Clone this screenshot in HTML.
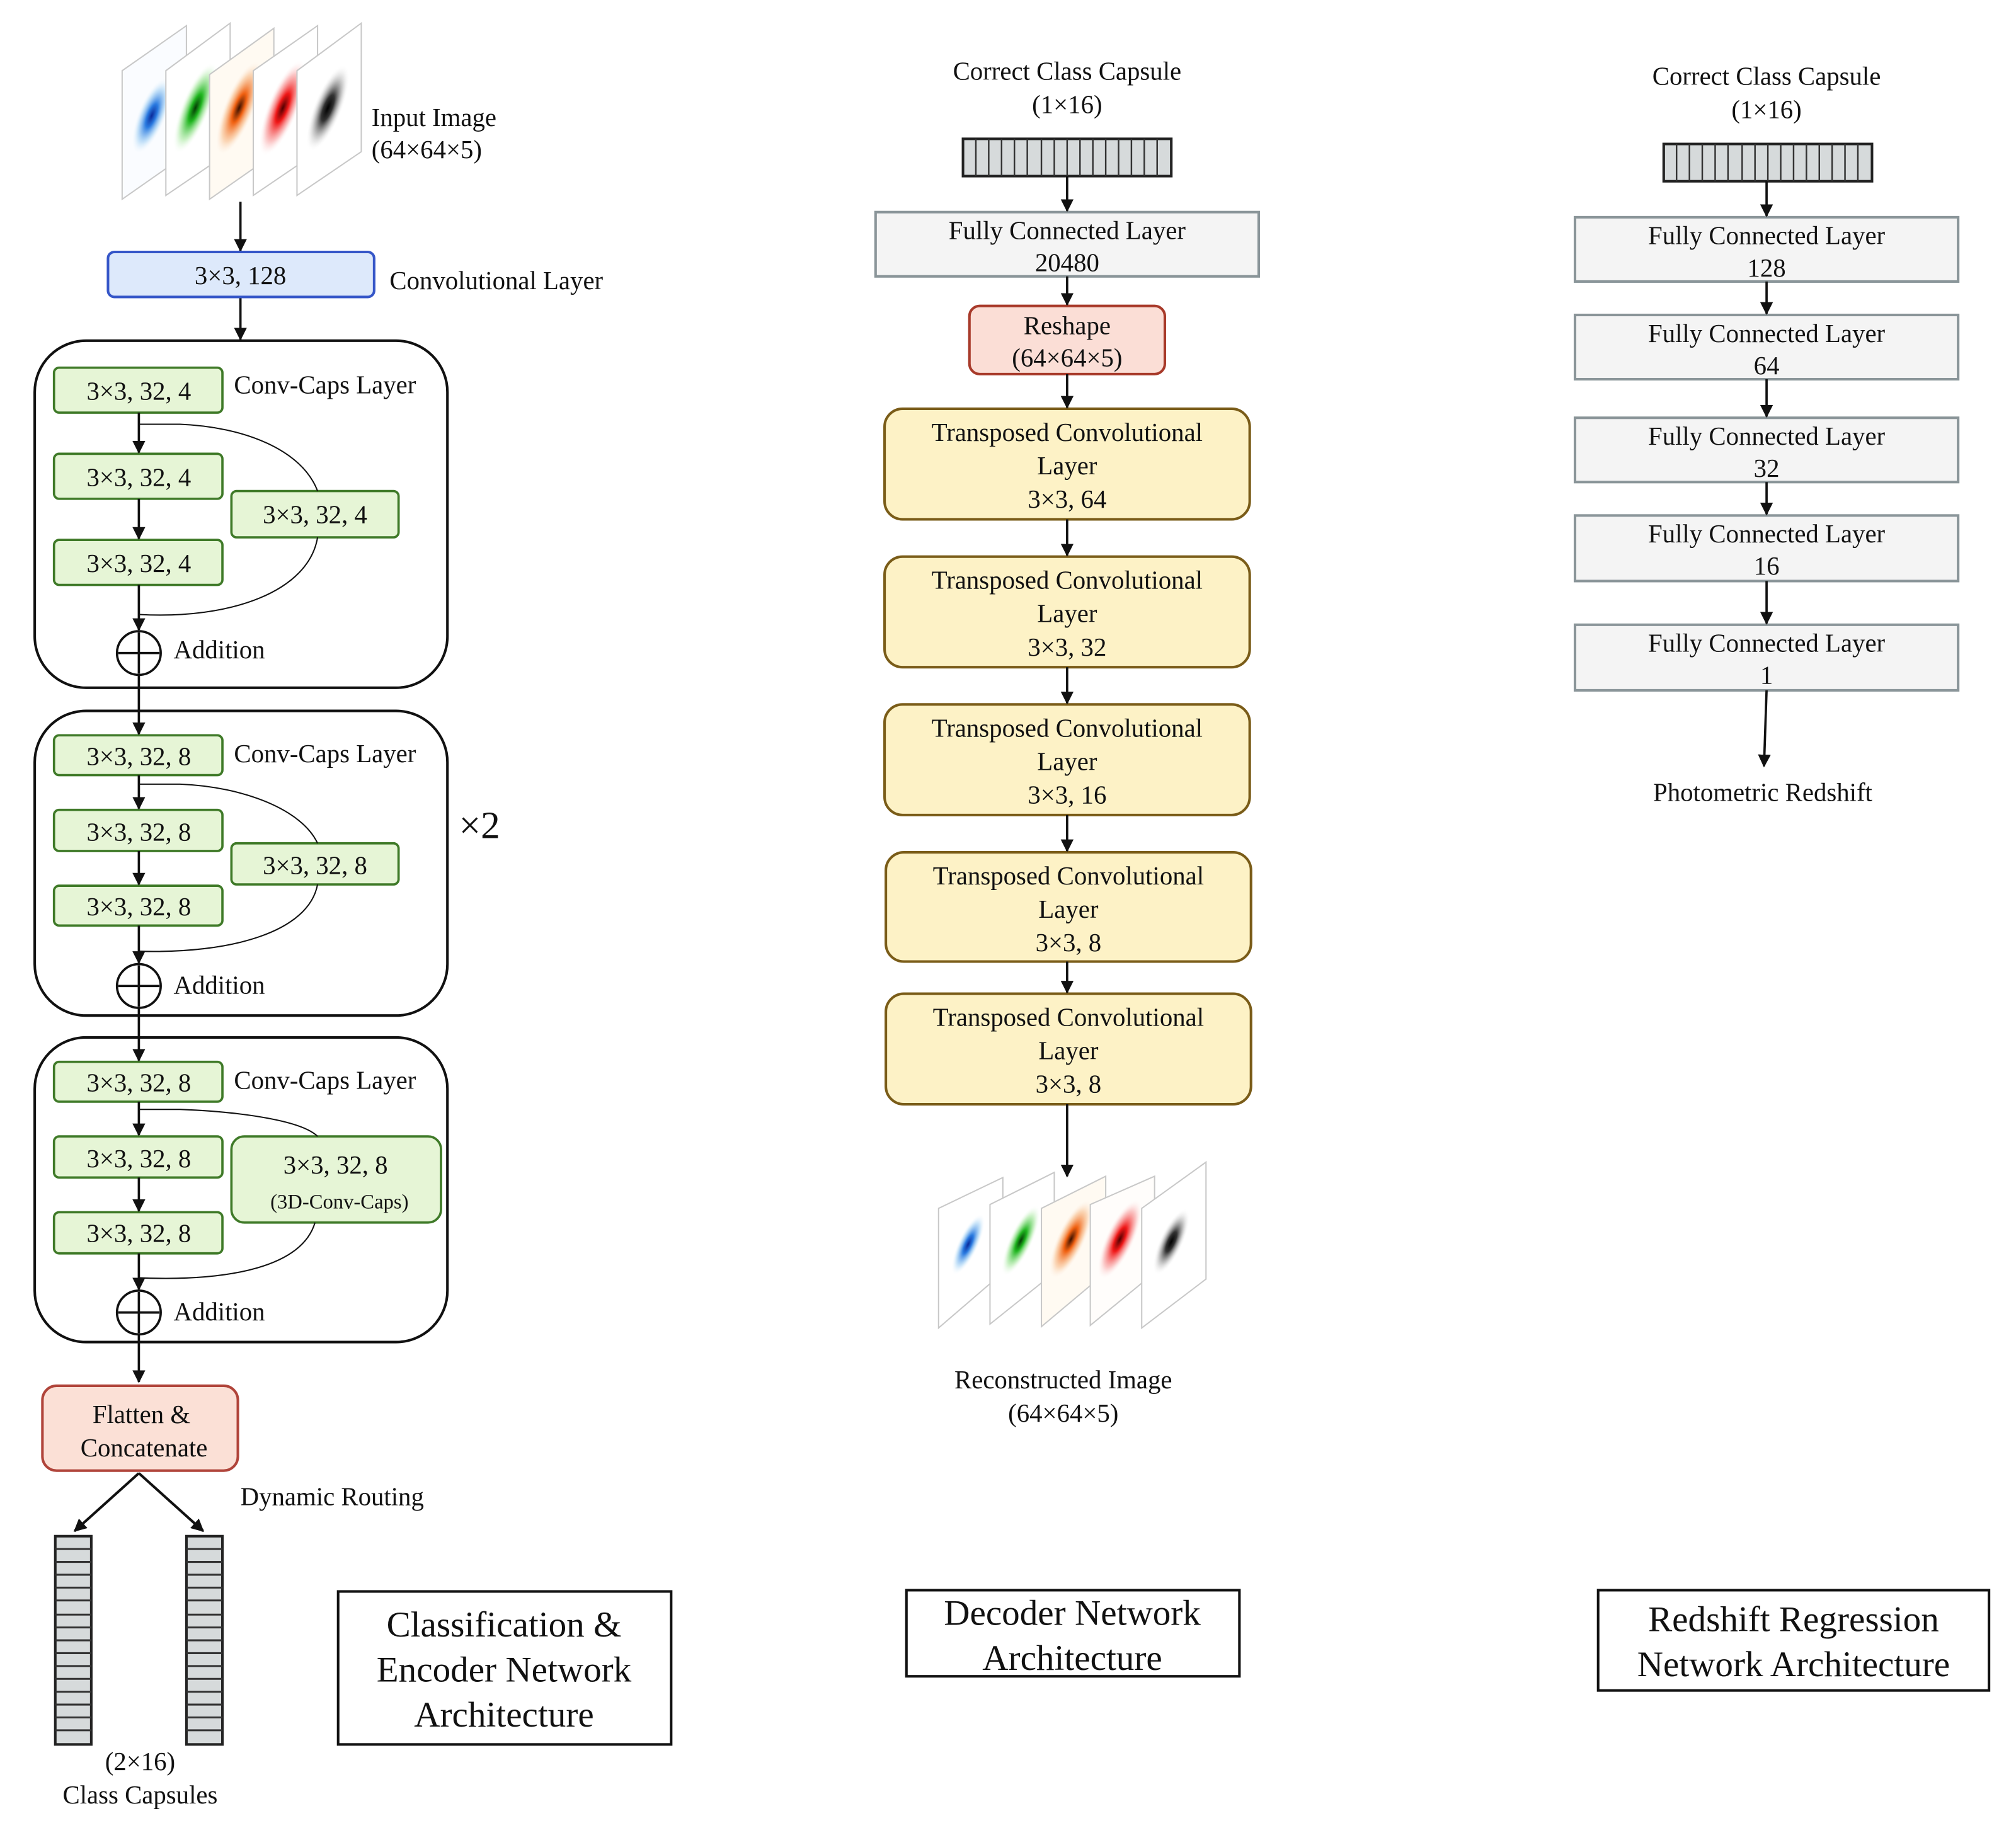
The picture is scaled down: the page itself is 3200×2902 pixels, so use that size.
<!DOCTYPE html>
<html><head><meta charset="utf-8">
<style>
html,body{margin:0;padding:0;background:#fff;}
svg{display:block;}
text{font-family:"Liberation Serif",serif;fill:#111;}
</style></head>
<body>
<svg width="3200" height="2902" viewBox="0 0 1568 1422" preserveAspectRatio="none" xmlns="http://www.w3.org/2000/svg">
<defs>
<marker id="ah" markerWidth="10" markerHeight="10" refX="9" refY="5" orient="auto" markerUnits="userSpaceOnUse">
<path d="M0,0 L10,5 L0,10 z" fill="#111"/>
</marker>
<radialGradient id="gb"><stop offset="0" stop-color="#0a2a9a"/><stop offset="0.3" stop-color="#2a7ae0"/><stop offset="0.7" stop-color="#a8d4f5" stop-opacity="0.6"/><stop offset="1" stop-color="#fff" stop-opacity="0"/></radialGradient>
<radialGradient id="gg"><stop offset="0" stop-color="#053a05"/><stop offset="0.3" stop-color="#1fb51f"/><stop offset="0.7" stop-color="#a8e8a0" stop-opacity="0.6"/><stop offset="1" stop-color="#fff" stop-opacity="0"/></radialGradient>
<radialGradient id="go"><stop offset="0" stop-color="#3a1000"/><stop offset="0.3" stop-color="#f06010"/><stop offset="0.7" stop-color="#f8c090" stop-opacity="0.6"/><stop offset="1" stop-color="#fff" stop-opacity="0"/></radialGradient>
<radialGradient id="gr"><stop offset="0" stop-color="#500000"/><stop offset="0.3" stop-color="#f01818"/><stop offset="0.7" stop-color="#f8a0a0" stop-opacity="0.6"/><stop offset="1" stop-color="#fff" stop-opacity="0"/></radialGradient>
<radialGradient id="gk"><stop offset="0" stop-color="#000"/><stop offset="0.3" stop-color="#333"/><stop offset="0.7" stop-color="#bbb" stop-opacity="0.6"/><stop offset="1" stop-color="#fff" stop-opacity="0"/></radialGradient>
</defs>
<rect width="1568" height="1422" fill="#fff"/>

<g stroke="#c8c8c8" stroke-width="1">
<polygon points="95,55 145,20 145,120 95,155" fill="#fafcff"/>
<ellipse cx="118" cy="90" rx="11" ry="32" transform="rotate(22 118 90)" fill="url(#gb)" stroke="none"/>
<polygon points="129,55 179,18 179,118 129,152" fill="#fff"/>
<ellipse cx="152" cy="84" rx="11" ry="38" transform="rotate(22 152 84)" fill="url(#gg)" stroke="none"/>
<polygon points="163,58 213,22 213,120 163,155" fill="#fffaf2"/>
<ellipse cx="186" cy="84" rx="12" ry="40" transform="rotate(22 186 84)" fill="url(#go)" stroke="none"/>
<polygon points="197,55 247,20 247,118 197,152" fill="#fff"/>
<ellipse cx="220" cy="84" rx="12" ry="40" transform="rotate(22 220 84)" fill="url(#gr)" stroke="none"/>
<polygon points="231,55 281,18 281,118 231,152" fill="#fff"/>
<ellipse cx="255" cy="84" rx="11" ry="36" transform="rotate(22 255 84)" fill="url(#gk)" stroke="none"/>
</g>
<text x="289" y="98" font-size="20">Input Image</text>
<text x="289" y="123" font-size="20">(64×64×5)</text>

<g stroke="#111" stroke-width="1.8" fill="none" marker-end="url(#ah)">
<line x1="187" y1="157" x2="187" y2="195"/>
<line x1="187" y1="232" x2="187" y2="264"/>
</g>
<rect x="84" y="196" width="207" height="35" rx="5" fill="#dde9fb" stroke="#3556c8" stroke-width="2"/>
<text x="187" y="221" font-size="20" text-anchor="middle">3×3, 128</text>
<text x="303" y="225" font-size="20">Convolutional Layer</text>

<rect x="27" y="265" width="321" height="270" rx="40" fill="none" stroke="#111" stroke-width="2"/>
<g fill="#e6f5d6" stroke="#3f7a28" stroke-width="1.8">
<rect x="42" y="286" width="131" height="35" rx="4"/>
<rect x="42" y="353" width="131" height="35" rx="4"/>
<rect x="42" y="420" width="131" height="35" rx="4"/>
<rect x="180" y="382" width="130" height="36" rx="4"/>
</g>
<g font-size="20" text-anchor="middle">
<text x="108" y="311">3×3, 32, 4</text>
<text x="108" y="378">3×3, 32, 4</text>
<text x="108" y="445">3×3, 32, 4</text>
<text x="245" y="407">3×3, 32, 4</text>
</g>
<text x="182" y="306" font-size="20">Conv-Caps Layer</text>
<path d="M108,330 L140,330 C190,332 235,350 247,382" fill="none" stroke="#111" stroke-width="1"/>
<path d="M247,418 C240,460 180,482 108,478" fill="none" stroke="#111" stroke-width="1"/>
<g stroke="#111" stroke-width="1.8" fill="none" marker-end="url(#ah)">
<line x1="108" y1="321" x2="108" y2="352"/>
<line x1="108" y1="388" x2="108" y2="419"/>
<line x1="108" y1="455" x2="108" y2="490"/>
</g>
<circle cx="108" cy="508" r="17" fill="#fff" stroke="#111" stroke-width="1.8"/>
<path d="M92,508 H124 M108,492 V524" stroke="#111" stroke-width="1.8"/>
<text x="135" y="512" font-size="20">Addition</text>

<rect x="27" y="553" width="321" height="237" rx="40" fill="none" stroke="#111" stroke-width="2"/>
<g fill="#e6f5d6" stroke="#3f7a28" stroke-width="1.8">
<rect x="42" y="572" width="131" height="31" rx="4"/>
<rect x="42" y="630" width="131" height="32" rx="4"/>
<rect x="42" y="689" width="131" height="31" rx="4"/>
<rect x="180" y="656" width="130" height="32" rx="4"/>
</g>
<g font-size="20" text-anchor="middle">
<text x="108" y="595">3×3, 32, 8</text>
<text x="108" y="654">3×3, 32, 8</text>
<text x="108" y="712">3×3, 32, 8</text>
<text x="245" y="680">3×3, 32, 8</text>
</g>
<text x="182" y="593" font-size="20">Conv-Caps Layer</text>
<path d="M108,610 L140,610 C190,612 235,630 247,656" fill="none" stroke="#111" stroke-width="1"/>
<path d="M247,688 C240,725 180,742 108,740" fill="none" stroke="#111" stroke-width="1"/>
<g stroke="#111" stroke-width="1.8" fill="none" marker-end="url(#ah)">
<line x1="108" y1="525" x2="108" y2="571"/>
<line x1="108" y1="603" x2="108" y2="629"/>
<line x1="108" y1="662" x2="108" y2="688"/>
<line x1="108" y1="720" x2="108" y2="749"/>
</g>
<circle cx="108" cy="767" r="17" fill="#fff" stroke="#111" stroke-width="1.8"/>
<path d="M92,767 H124 M108,751 V783" stroke="#111" stroke-width="1.8"/>
<text x="135" y="773" font-size="20">Addition</text>
<text x="357" y="652" font-size="30">×2</text>

<rect x="27" y="807" width="321" height="237" rx="40" fill="none" stroke="#111" stroke-width="2"/>
<g fill="#e6f5d6" stroke="#3f7a28" stroke-width="1.8">
<rect x="42" y="826" width="131" height="31" rx="4"/>
<rect x="42" y="884" width="131" height="32" rx="4"/>
<rect x="42" y="943" width="131" height="32" rx="4"/>
<rect x="180" y="884" width="163" height="67" rx="10"/>
</g>
<g font-size="20" text-anchor="middle">
<text x="108" y="849">3×3, 32, 8</text>
<text x="108" y="908">3×3, 32, 8</text>
<text x="108" y="966">3×3, 32, 8</text>
<text x="261" y="913">3×3, 32, 8</text>
<text x="264" y="940" font-size="16">(3D-Conv-Caps)</text>
</g>
<text x="182" y="847" font-size="20">Conv-Caps Layer</text>
<path d="M108,863 L140,863 C190,865 235,872 247,884" fill="none" stroke="#111" stroke-width="1"/>
<path d="M245,951 C235,985 180,997 108,994" fill="none" stroke="#111" stroke-width="1"/>
<g stroke="#111" stroke-width="1.8" fill="none" marker-end="url(#ah)">
<line x1="108" y1="784" x2="108" y2="825"/>
<line x1="108" y1="857" x2="108" y2="883"/>
<line x1="108" y1="916" x2="108" y2="942"/>
<line x1="108" y1="975" x2="108" y2="1003"/>
<line x1="108" y1="1038" x2="108" y2="1075"/>
</g>
<circle cx="108" cy="1021" r="17" fill="#fff" stroke="#111" stroke-width="1.8"/>
<path d="M92,1021 H124 M108,1005 V1037" stroke="#111" stroke-width="1.8"/>
<text x="135" y="1027" font-size="20">Addition</text>

<rect x="33" y="1078" width="152" height="66" rx="11" fill="#fbe0d6" stroke="#b0443a" stroke-width="2"/>
<text x="110" y="1107" font-size="20" text-anchor="middle">Flatten &amp;</text>
<text x="112" y="1133" font-size="20" text-anchor="middle">Concatenate</text>
<g stroke="#111" stroke-width="2" fill="none" marker-end="url(#ah)">
<line x1="108" y1="1146" x2="58" y2="1191"/>
<line x1="108" y1="1146" x2="158" y2="1191"/>
</g>
<text x="187" y="1171" font-size="20">Dynamic Routing</text>
<g>
<rect x="43" y="1195" width="28" height="162" fill="#d6dadb" stroke="#222" stroke-width="2"/>
<path d="M43,1205 H71 M43,1215 H71 M43,1225 H71 M43,1235 H71 M43,1245 H71 M43,1256 H71 M43,1266 H71 M43,1276 H71 M43,1286 H71 M43,1296 H71 M43,1306 H71 M43,1316 H71 M43,1326 H71 M43,1336 H71 M43,1346 H71" stroke="#333" stroke-width="1.5"/>
</g>
<g transform="translate(102,0)">
<rect x="43" y="1195" width="28" height="162" fill="#d6dadb" stroke="#222" stroke-width="2"/>
<path d="M43,1205 H71 M43,1215 H71 M43,1225 H71 M43,1235 H71 M43,1245 H71 M43,1256 H71 M43,1266 H71 M43,1276 H71 M43,1286 H71 M43,1296 H71 M43,1306 H71 M43,1316 H71 M43,1326 H71 M43,1336 H71 M43,1346 H71" stroke="#333" stroke-width="1.5"/>
</g>
<text x="109" y="1377" font-size="20" text-anchor="middle">(2×16)</text>
<text x="109" y="1403" font-size="20" text-anchor="middle">Class Capsules</text>

<rect x="263" y="1238" width="259" height="119" fill="#fff" stroke="#111" stroke-width="2"/>
<g font-size="28" text-anchor="middle">
<text x="392" y="1273">Classification &amp;</text>
<text x="392" y="1308">Encoder Network</text>
<text x="392" y="1343">Architecture</text>
</g>

<text x="830" y="62" font-size="20" text-anchor="middle">Correct Class Capsule</text>
<text x="830" y="88" font-size="20" text-anchor="middle">(1×16)</text>
<rect x="749" y="108" width="162" height="29" fill="#d6dadb" stroke="#222" stroke-width="2"/>
<path d="M759,108V137 M769,108V137 M779,108V137 M789,108V137 M799,108V137 M810,108V137 M820,108V137 M830,108V137 M840,108V137 M850,108V137 M860,108V137 M870,108V137 M880,108V137 M890,108V137 M900,108V137" stroke="#333" stroke-width="1.2"/>
<rect x="681" y="165" width="298" height="50" fill="#f4f4f4" stroke="#8a9599" stroke-width="2"/>
<text x="830" y="186" font-size="20" text-anchor="middle">Fully Connected Layer</text>
<text x="830" y="211" font-size="20" text-anchor="middle">20480</text>
<rect x="754" y="238" width="152" height="53" rx="8" fill="#fbded6" stroke="#a83a2a" stroke-width="2"/>
<text x="830" y="260" font-size="20" text-anchor="middle">Reshape</text>
<text x="830" y="285" font-size="20" text-anchor="middle">(64×64×5)</text>

<g fill="#fdf2c6" stroke="#7a5c18" stroke-width="2">
<rect x="688" y="318" width="284" height="86" rx="14"/>
<rect x="688" y="433" width="284" height="86" rx="14"/>
<rect x="688" y="548" width="284" height="86" rx="14"/>
<rect x="689" y="663" width="284" height="85" rx="14"/>
<rect x="689" y="773" width="284" height="86" rx="14"/>
</g>
<g font-size="20" text-anchor="middle">
<text x="830" y="343">Transposed Convolutional</text><text x="830" y="369">Layer</text><text x="830" y="395">3×3, 64</text>
<text x="830" y="458">Transposed Convolutional</text><text x="830" y="484">Layer</text><text x="830" y="510">3×3, 32</text>
<text x="830" y="573">Transposed Convolutional</text><text x="830" y="599">Layer</text><text x="830" y="625">3×3, 16</text>
<text x="831" y="688">Transposed Convolutional</text><text x="831" y="714">Layer</text><text x="831" y="740">3×3, 8</text>
<text x="831" y="798">Transposed Convolutional</text><text x="831" y="824">Layer</text><text x="831" y="850">3×3, 8</text>
</g>
<g stroke="#111" stroke-width="1.8" fill="none" marker-end="url(#ah)">
<line x1="830" y1="137" x2="830" y2="164"/>
<line x1="830" y1="215" x2="830" y2="237"/>
<line x1="830" y1="291" x2="830" y2="317"/>
<line x1="830" y1="404" x2="830" y2="432"/>
<line x1="830" y1="519" x2="830" y2="547"/>
<line x1="830" y1="634" x2="830" y2="662"/>
<line x1="830" y1="748" x2="830" y2="772"/>
<line x1="830" y1="859" x2="830" y2="915"/>
</g>
<g stroke="#c8c8c8" stroke-width="1">
<polygon points="730,940 780,916 780,990 730,1033" fill="#fff"/>
<ellipse cx="753" cy="968" rx="8" ry="26" transform="rotate(25 753 968)" fill="url(#gb)" stroke="none"/>
<polygon points="770,937 820,912 820,990 770,1030" fill="#fff"/>
<ellipse cx="794" cy="965" rx="9" ry="30" transform="rotate(25 794 965)" fill="url(#gg)" stroke="none"/>
<polygon points="810,940 860,915 860,990 810,1032" fill="#fffaf2"/>
<ellipse cx="833" cy="964" rx="11" ry="34" transform="rotate(25 833 964)" fill="url(#go)" stroke="none"/>
<polygon points="848,937 898,915 898,990 848,1031" fill="#fffdfb"/>
<ellipse cx="871" cy="964" rx="11" ry="34" transform="rotate(25 871 964)" fill="url(#gr)" stroke="none"/>
<polygon points="888,940 938,904 938,995 888,1033" fill="#fff"/>
<ellipse cx="911" cy="966" rx="9" ry="28" transform="rotate(25 911 966)" fill="url(#gk)" stroke="none"/>
</g>
<text x="827" y="1080" font-size="20" text-anchor="middle">Reconstructed Image</text>
<text x="827" y="1106" font-size="20" text-anchor="middle">(64×64×5)</text>
<rect x="705" y="1237" width="259" height="67" fill="#fff" stroke="#111" stroke-width="2"/>
<text x="834" y="1264" font-size="28" text-anchor="middle">Decoder Network</text>
<text x="834" y="1299" font-size="28" text-anchor="middle">Architecture</text>

<text x="1374" y="66" font-size="20" text-anchor="middle">Correct Class Capsule</text>
<text x="1374" y="92" font-size="20" text-anchor="middle">(1×16)</text>
<rect x="1294" y="112" width="162" height="29" fill="#d6dadb" stroke="#222" stroke-width="2"/>
<path d="M1304,112V141 M1314,112V141 M1324,112V141 M1334,112V141 M1344,112V141 M1355,112V141 M1365,112V141 M1375,112V141 M1385,112V141 M1395,112V141 M1405,112V141 M1415,112V141 M1425,112V141 M1435,112V141 M1445,112V141" stroke="#333" stroke-width="1.2"/>
<g fill="#f4f4f4" stroke="#8a9599" stroke-width="2">
<rect x="1225" y="169" width="298" height="50"/>
<rect x="1225" y="245" width="298" height="50"/>
<rect x="1225" y="325" width="298" height="50"/>
<rect x="1225" y="401" width="298" height="51"/>
<rect x="1225" y="486" width="298" height="51"/>
</g>
<g font-size="20" text-anchor="middle">
<text x="1374" y="190">Fully Connected Layer</text><text x="1374" y="215">128</text>
<text x="1374" y="266">Fully Connected Layer</text><text x="1374" y="291">64</text>
<text x="1374" y="346">Fully Connected Layer</text><text x="1374" y="371">32</text>
<text x="1374" y="422">Fully Connected Layer</text><text x="1374" y="447">16</text>
<text x="1374" y="507">Fully Connected Layer</text><text x="1374" y="532">1</text>
</g>
<g stroke="#111" stroke-width="1.8" fill="none" marker-end="url(#ah)">
<line x1="1374" y1="141" x2="1374" y2="168"/>
<line x1="1374" y1="219" x2="1374" y2="244"/>
<line x1="1374" y1="295" x2="1374" y2="324"/>
<line x1="1374" y1="375" x2="1374" y2="400"/>
<line x1="1374" y1="452" x2="1374" y2="485"/>
<line x1="1374" y1="537" x2="1372" y2="596"/>
</g>
<text x="1371" y="623" font-size="20" text-anchor="middle">Photometric Redshift</text>
<rect x="1243" y="1237" width="304" height="78" fill="#fff" stroke="#111" stroke-width="2"/>
<text x="1395" y="1269" font-size="28" text-anchor="middle">Redshift Regression</text>
<text x="1395" y="1304" font-size="28" text-anchor="middle">Network Architecture</text>
</svg>
</body></html>
